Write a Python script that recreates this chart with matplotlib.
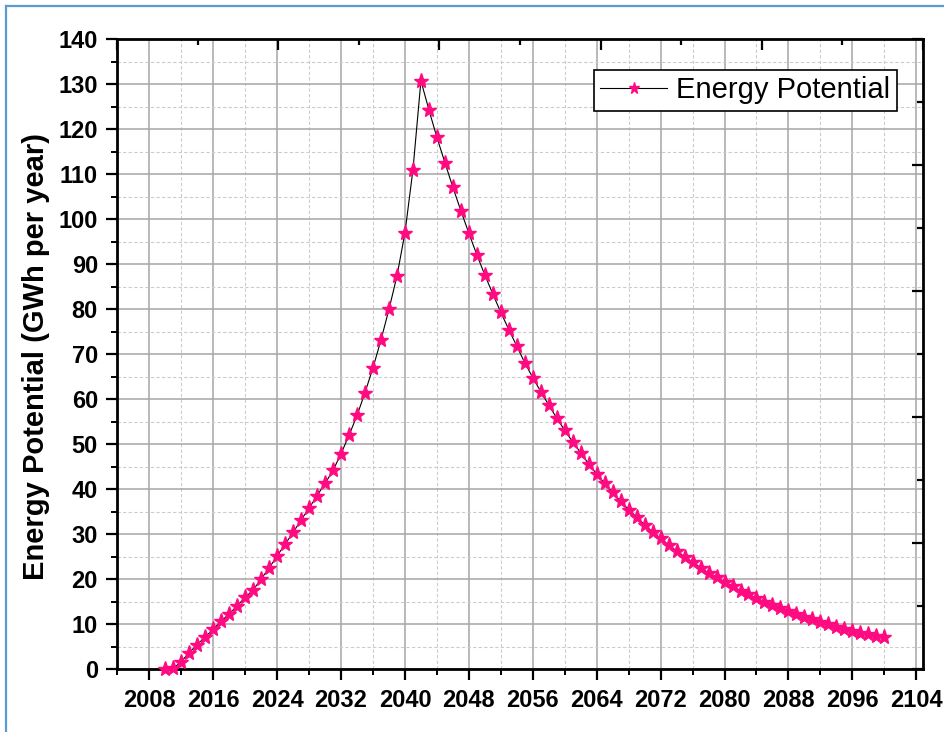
import numpy as np
import matplotlib
matplotlib.use("Agg")
import matplotlib.pyplot as plt
from matplotlib.ticker import MultipleLocator
from matplotlib.lines import Line2D

plt.rcParams['font.family'] = ['Liberation Sans', 'DejaVu Sans']

# yearly energy potential, 2010..2100
years = np.arange(2010, 2101)
energy = [0.0, 0.2, 1.7, 3.7, 5.5, 7.2, 8.9, 10.7, 12.3, 14.1,
          16.0, 17.6, 20.1, 22.5, 25.2, 27.8, 30.4, 33.2, 35.8, 38.6,
          41.3, 44.2, 47.9, 52.0, 56.4, 61.5, 67.0, 73.2, 80.0, 87.4,
          97.0, 111.0, 130.8, 124.3, 118.2, 112.6, 107.1, 101.9, 96.9, 92.1,
          87.6, 83.4, 79.3, 75.5, 71.8, 68.1, 64.8, 61.7, 58.7, 55.8,
          53.1, 50.5, 48.1, 45.6, 43.4, 41.3, 39.3, 37.3, 35.5, 33.8,
          32.1, 30.5, 29.1, 27.6, 26.3, 25.0, 23.8, 22.6, 21.4, 20.4,
          19.4, 18.4, 17.5, 16.7, 15.8, 15.0, 14.3, 13.6, 13.0, 12.3,
          11.7, 11.1, 10.5, 10.0, 9.5, 9.0, 8.6, 8.1, 7.8, 7.4, 7.1]
x_ticks = list(range(2008, 2105, 8))

fig = plt.figure(figsize=(9.44, 7.32), dpi=100)
pos = [0.1243, 0.0857, 0.8531, 0.8606]
ax = fig.add_axes(pos)

ax.plot(years, energy, color='black', lw=0.8, marker='*', ms=11,
        mfc='#ff0a80', mec='#ff0a80', label='Energy Potential', clip_on=False, zorder=3)

ax.set_xlim(2004, 2104.8)
ax.set_ylim(0, 140)
ax.set_xticks(x_ticks)
ax.xaxis.set_minor_locator(MultipleLocator(4))
ax.yaxis.set_major_locator(MultipleLocator(10))
ax.yaxis.set_minor_locator(MultipleLocator(5))

ax.grid(which='major', color='#a6a6a6', lw=1.1, ls='-')
ax.grid(which='minor', color='#cccccc', lw=0.8, ls=(0, (3, 2)))
ax.set_axisbelow(True)

ax.tick_params(which='major', direction='out', length=8, width=1.6, pad=6,
               labelsize=17, top=False, right=False)
ax.tick_params(which='minor', direction='out', length=4, width=1.4,
               top=False, right=False)
for lab in ax.get_xticklabels() + ax.get_yticklabels():
    lab.set_fontweight('bold')
for s in ax.spines.values():
    s.set_linewidth(2)

ax.set_ylabel('Energy Potential (GWh per year)', fontsize=21, fontweight='bold')
ax.yaxis.set_label_coords(-0.0836, 0.497)

leg = ax.legend(loc='upper right', bbox_to_anchor=(0.9677, 0.9513), borderaxespad=0,
                fontsize=21, fancybox=False, edgecolor='black', framealpha=1,
                handlelength=2.3, handletextpad=0.3, borderpad=0.22, markerscale=0.75)
leg.get_frame().set_linewidth(1.2)

# extra top/right axis with its own inward ticks, no labels
ax2 = fig.add_axes(pos, frameon=False)
ax2.set_xlim(0, 10)
ax2.set_ylim(0, 10)
ax2.patch.set_visible(False)
ax2.xaxis.set_major_locator(MultipleLocator(2))
ax2.xaxis.set_minor_locator(MultipleLocator(1))
ax2.yaxis.set_major_locator(MultipleLocator(2))
ax2.yaxis.set_minor_locator(MultipleLocator(1))
ax2.tick_params(which='both', direction='in', width=1.6, bottom=False, left=False,
                top=True, right=True, labelbottom=False, labelleft=False)
ax2.tick_params(which='major', length=8)
ax2.tick_params(which='minor', length=4)

# light blue border of the original figure frame
blue = '#5b9bd5'
fig.add_artist(Line2D([6 / 944, 1], [1 - 6 / 732, 1 - 6 / 732], color=blue, lw=1.6))
fig.add_artist(Line2D([6 / 944, 6 / 944], [0, 1 - 6 / 732], color=blue, lw=1.6))

fig.savefig('out.png', dpi=100)
